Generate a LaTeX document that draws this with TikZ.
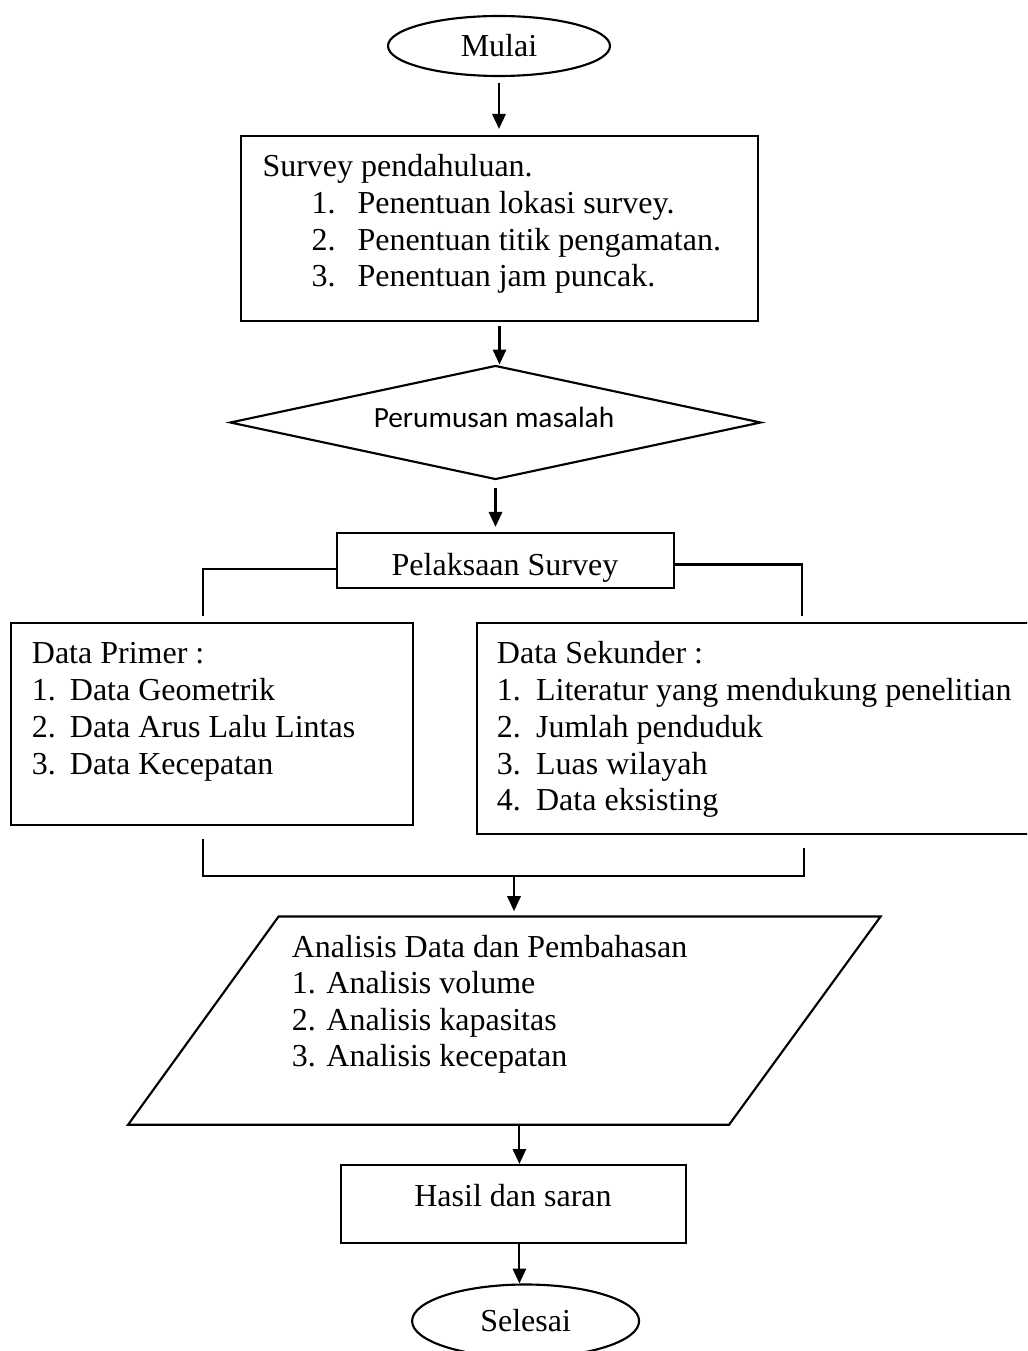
\documentclass[tikz,border=0pt]{standalone}
\usepackage{fontspec}
\setmainfont{Liberation Serif}
\newfontfamily\calibrifont{Carlito}
\usetikzlibrary{shapes.geometric,arrows.meta,calc}
\begin{document}
\begin{tikzpicture}[x=0.375pt,y=-0.375pt,
  box/.style={draw, line width=0.8pt, rectangle, inner sep=0pt},
  oval/.style={draw, line width=0.8pt, ellipse, inner sep=0pt, font=\fontsize{12pt}{13.8pt}\selectfont},
  txt/.style={anchor=base west, inner sep=0pt, font=\fontsize{12pt}{13.8pt}\selectfont},
  ctxt/.style={anchor=base, inner sep=0pt, font=\fontsize{12pt}{13.8pt}\selectfont},
  arr/.style={-{Triangle[length=5.6pt,width=5pt]}, line width=0.8pt},
  conn/.style={line width=0.8pt}]
\clip (0,0) rectangle (1027,1351);
\fill[white] (0,0) rectangle (1027,1351);

% shapes
\node[oval, minimum width=83.25pt, minimum height=22.5pt] (mulai) at (499,46) {Mulai};
\node[box, minimum width=193.875pt, minimum height=69.375pt] (survey) at (499.5,228.5) {};
\node[draw, line width=0.8pt, diamond, inner sep=0pt, minimum width=199.125pt, minimum height=42.75pt] (diamond) at (495.5,422.5) {};
\node[box, minimum width=126.375pt, minimum height=20.625pt] (pel) at (505.5,560.5) {};
\node[box, minimum width=150.75pt, minimum height=75.75pt] (primer) at (212,724) {};
\node[box, minimum width=211.125pt, minimum height=79.125pt] (sek) at (758.5,728.5) {};
\draw[conn] (278.6,916.5) -- (880.6,916.5) -- (729,1124.8) -- (128,1124.8) -- cycle;
\coordinate (partop) at (514,916.5);
\coordinate (parbot) at (519.4,1124.8);
\node[box, minimum width=129.375pt, minimum height=29.25pt] (hasil) at (513.5,1204) {};
\node[oval, minimum width=85.125pt, minimum height=27.375pt] (selesai) at (525.6,1321) {Selesai};

% texts
\node[txt] (s0) at (262,177) {Survey pendahuluan.};
\node[txt] (s1) at (311,213.5) {\makebox[17.25pt][l]{1.}Penentuan lokasi survey.};
\node[txt] (s2) at (311,250.3) {\makebox[17.25pt][l]{2.}Penentuan titik pengamatan.};
\node[txt] (s3) at (311,287) {\makebox[17.25pt][l]{3.}Penentuan jam puncak.};

\node[anchor=base, inner sep=0pt, font=\calibrifont\fontsize{11pt}{13pt}\selectfont] (dtext) at (494,427.5) {Perumusan masalah};

\node[ctxt] (peltext) at (505,575) {Pelaksaan Survey};

\node[txt] (p0) at (31.4,663) {Data Primer :};
\node[txt] (p1) at (31.4,700) {\makebox[14.25pt][l]{1.}Data Geometrik};
\node[txt] (p2) at (31.4,737) {\makebox[14.25pt][l]{2.}Data Arus Lalu Lintas};
\node[txt] (p3) at (31.4,774) {\makebox[14.25pt][l]{3.}Data Kecepatan};

\node[txt] (k0) at (496.4,663) {Data Sekunder :};
\node[txt] (k1) at (496.4,700) {\makebox[14.7pt][l]{1.}Literatur yang mendukung penelitian};
\node[txt] (k2) at (496.4,737) {\makebox[14.7pt][l]{2.}Jumlah penduduk};
\node[txt] (k3) at (496.4,774) {\makebox[14.7pt][l]{3.}Luas wilayah};
\node[txt] (k4) at (496.4,810.5) {\makebox[14.7pt][l]{4.}Data eksisting};

\node[txt] (a0) at (291.3,957) {Analisis Data dan Pembahasan};
\node[txt] (a1) at (291.3,993.4) {1. Analisis volume};
\node[txt] (a2) at (291.3,1030) {2. Analisis kapasitas};
\node[txt] (a3) at (291.3,1066.5) {3. Analisis kecepatan};

\node[ctxt] (hasiltext) at (513,1206) {Hasil dan saran};

% connectors
\draw[arr, shorten <=2.25pt, shorten >=2.25pt] (mulai.south) -- (mulai.south |- survey.north);
\draw[arr, shorten <=1.5pt] (survey.south) -- (survey.south |- diamond.north);
\draw[arr, shorten <=2.6pt, shorten >=1.9pt] (diamond.south) -- (diamond.south |- pel.north);

\draw[conn] ($(pel.west)+(0,8.5)$) -| ($(primer.north)+(-9,-6)$);
\draw[conn] ($(pel.east)+(0,4)$) -| ($(sek.north)+(43.5,-6)$);

\coordinate (bl) at (203,876);
\coordinate (br) at (804,876);
\coordinate (bm) at (514,876);
\draw[conn] ($(primer.south)+(-9,13)$) -- (bl) -- (br) -- ($(sek.south)+(45.5,13)$);
\draw[arr, shorten >=2pt] (bm) -- (partop);

\draw[arr] (parbot) -- (parbot |- hasil.north);
\draw[arr] (parbot |- hasil.south) -- (parbot |- selesai.north);
\end{tikzpicture}
\end{document}
